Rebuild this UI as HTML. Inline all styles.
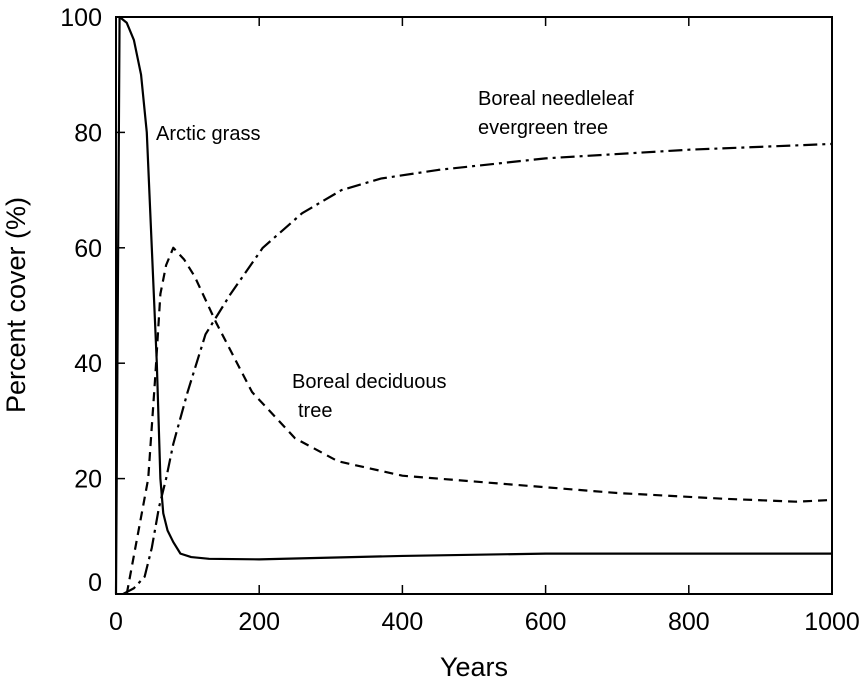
<!DOCTYPE html>
<html><head><meta charset="utf-8"><style>
body{margin:0;background:#fff}
svg{display:block;font-family:"Liberation Sans",Arial,sans-serif}
</style></head><body>
<svg id="chart" width="867" height="686"></svg>
<script>
const years = [0,5,15,25,35,43,50,57,62,66,72,80,90,105,130,200,300,400,600,800,1000];
const grass = [0,100,99,96,90,80,60,40,20,14,11,9,7,6.4,6.1,6,6.3,6.6,7,7,7];
const decYears = [15,30,45,55,62,70,80,95,110,140,190,250,310,400,550,700,850,950,1000];
const deciduous = [0,10,20,38,52,57,60,58,55,47,35,27,23,20.5,19,17.5,16.5,16,16.3];
const neeYears = [10,25,40,50,60,70,80,100,125,160,205,260,315,370,450,600,800,1000];
const needleleaf = [0,1,3,8,15,20,26,35,45,52,60,66,70,72,73.5,75.5,77,78];
const xTicks = [0,200,400,600,800,1000];
const yTicks = [0,20,40,60,80,100];
const L=116,R=832,T=17,B=594;
const xs=v=>L+v*(R-L)/1000, ys=v=>B-v*(B-T)/100;
const svg=document.getElementById('chart');
const NS='http://www.w3.org/2000/svg';
function mk(t,a){const e=document.createElementNS(NS,t);for(const k in a)e.setAttribute(k,a[k]);svg.appendChild(e);return e;}
const frame=mk('rect',{x:L,y:T,width:R-L,height:B-T,fill:'none',stroke:'#000','stroke-width':2});


xTicks.forEach(v=>{
  const t=mk('line',{x1:xs(v),x2:xs(v),y1:B,y2:B-9,stroke:'#000','stroke-width':1.5});
  
  
  const t2=mk('line',{x1:xs(v),x2:xs(v),y1:T,y2:T+9,stroke:'#000','stroke-width':1.5});
  
  
  const l=mk('text',{x:xs(v),y:B+36,'font-size':25,'text-anchor':'middle'});l.textContent=v;
  
  
});
yTicks.forEach(v=>{
  const t=mk('line',{x1:L,x2:L+9,y1:ys(v),y2:ys(v),stroke:'#000','stroke-width':1.5});
  
  
  const l=mk('text',{x:L-14,y:ys(v)+(v===0?-3:9),'font-size':25,'text-anchor':'end'});l.textContent=v;
  
  
});
function line(xa,ya,dash,name){
  const p=mk('polyline',{points:xa.map((x,i)=>xs(x)+','+ys(ya[i])).join(' '),fill:'none',stroke:'#000','stroke-width':2.2,'stroke-dasharray':dash,'stroke-linejoin':'round'});
  
  
}
line(years,grass,'none','arctic-grass-line');
line(decYears,deciduous,'9 6','boreal-deciduous-line');
line(neeYears,needleleaf,'14 5 3 5','boreal-needleleaf-line');
function txt(x,y,s,sz,name,extra){const e=mk('text',Object.assign({x:x,y:y,'font-size':sz},extra||{}));e.textContent=s;
  
  }
txt(156,140,'Arctic grass',20,'arctic-grass-label');
txt(478,105,'Boreal needleleaf',20,'needleleaf-label-line1');
txt(478,134,'evergreen tree',20,'needleleaf-label-line2');
txt(292,388,'Boreal deciduous',20,'deciduous-label-line1');
txt(298,417,'tree',20,'deciduous-label-line2');
txt(474,676,'Years',27,'x-axis-title',{'text-anchor':'middle'});
txt(0,0,'Percent cover (%)',27,'y-axis-title',{'text-anchor':'middle',transform:'translate(25,305) rotate(-90)'});
</script>
</body></html>
